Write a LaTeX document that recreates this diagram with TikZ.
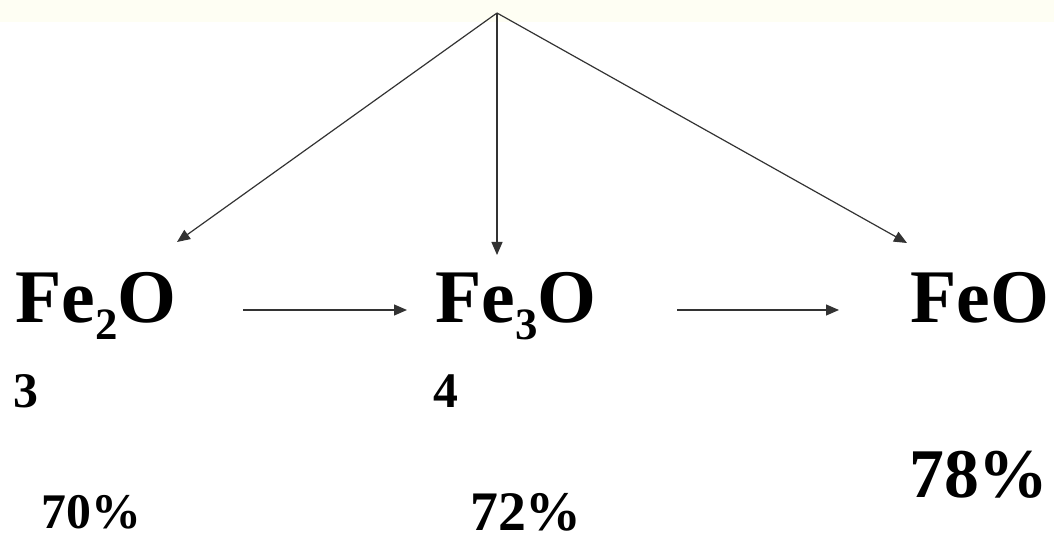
\documentclass[tikz,border=0pt]{standalone}
\usepackage{fontspec}
\setmainfont{Liberation Serif}
\usetikzlibrary{arrows.meta}
\definecolor{band}{HTML}{FEFEF3}
\tikzset{
  conn/.style={draw=black!80, line width=1.2bp, -{Triangle[length=13bp,width=11bp]}},
  formula/.style={inner sep=0pt, anchor=base west, font=\bfseries\fontsize{76}{84}\selectfont},
  subnum/.style={inner sep=0pt, anchor=base west, font=\bfseries\fontsize{50}{56}\selectfont},
}
\newcommand{\lowsub}[1]{{\fontsize{45}{45}\selectfont\raisebox{-17bp}{#1}}}
\begin{document}
\begin{tikzpicture}[x=1bp,y=-1bp]
\useasboundingbox (0,0) rectangle (1054,540);
\fill[band] (0,0) rectangle (1054,22);
\fill[white] (0,22) rectangle (1054,540);
% nodes
\node[formula] (fe2o) at (15,323) {Fe\lowsub{2}O};
\node[formula] (fe3o) at (435,323) {Fe\lowsub{3}O};
\node[formula] (feo) at (910,323) {FeO};
\node[subnum] (n3) at (13,407) {3};
\node[subnum] (n4) at (433,407) {4};
\node[subnum] (p70) at (41,528) {70\%};
\node[subnum, font=\bfseries\fontsize{56}{60}\selectfont] (p72) at (470,530) {72\%};
\node[subnum, font=\bfseries\fontsize{70}{74}\selectfont] (p78) at (909,497) {78\%};
% connector points
\coordinate (apex) at (497,13);
\coordinate (t1) at (177,242);
\coordinate (t2) at (497,255);
\coordinate (t3) at (907,243);
\coordinate (h1s) at (243,310);
\coordinate (h1e) at (407,310);
\coordinate (h2s) at (677,310);
\coordinate (h2e) at (839,310);
\draw[conn] (apex) -- (t1);
\draw[conn] (apex) -- (t2);
\draw[conn] (apex) -- (t3);
\draw[conn] (h1s) -- (h1e);
\draw[conn] (h2s) -- (h2e);
\end{tikzpicture}
\end{document}
